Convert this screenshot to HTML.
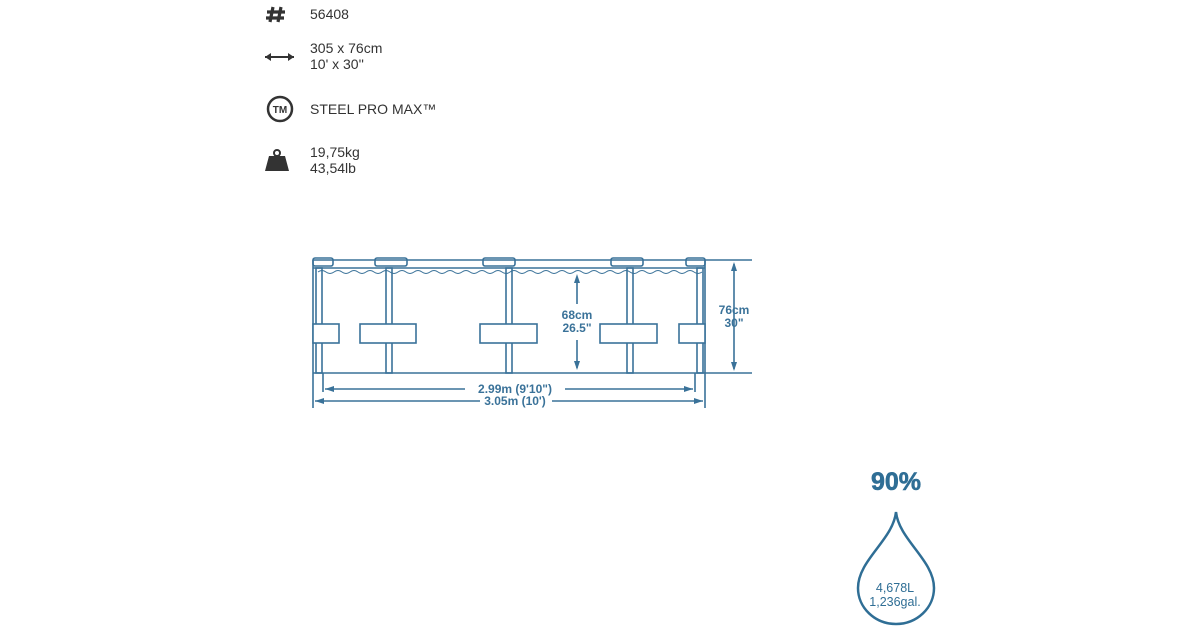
<!DOCTYPE html>
<html><head><meta charset="utf-8"><style>
body{margin:0;background:#fff;width:1200px;height:630px;overflow:hidden;font-family:"Liberation Sans",sans-serif}
</style></head><body>
<svg width="1200" height="630" xmlns="http://www.w3.org/2000/svg">
<g fill="#333" font-family="Liberation Sans, sans-serif" font-size="14">
<path d="M273 7 L270 22 M281 7 L278 22 M267 12 H285 M266 18 H284" stroke="#333" stroke-width="3.2"/>
<text x="310" y="19">56408</text>
<path d="M265 57 H294" stroke="#333" stroke-width="2"/>
<path d="M265 57 l6 -4 v8z M294 57 l-6 -4 v8z" fill="#333"/>
<text x="310" y="53">305 x 76cm</text>
<text x="310" y="69">10' x 30''</text>
<circle cx="280" cy="109" r="12" fill="none" stroke="#333" stroke-width="2.5"/>
<text x="280" y="113" font-size="10" font-weight="bold" text-anchor="middle">TM</text>
<text x="310" y="114">STEEL PRO MAX™</text>
<circle cx="277" cy="153" r="3" fill="none" stroke="#333" stroke-width="2"/>
<path d="M269 156 H285 L289 171 H265 Z" fill="#333"/>
<text x="310" y="157">19,75kg</text>
<text x="310" y="173">43,54lb</text>
</g>
<g stroke="#3a7299" stroke-width="1.6" fill="none">
<path d="M313 260 H705 M313 268 H705 M313 260 V408 M705 260 V408 M313 373 H705"/>
<path d="M318 272 q4 -3 8 0 t8 0 t8 0 t8 0 t8 0 t8 0 t8 0 t8 0 t8 0 t8 0 t8 0 t8 0 t8 0 t8 0 t8 0 t8 0 t8 0 t8 0 t8 0 t8 0 t8 0 t8 0 t8 0 t8 0 t8 0 t8 0 t8 0 t8 0 t8 0 t8 0 t8 0 t8 0 t8 0 t8 0 t8 0 t8 0 t8 0 t8 0 t8 0 t8 0 t8 0 t8 0 t8 0 t8 0 t8 0 t8 0 t8 0 t8 0" stroke-width="1"/>
<rect x="313" y="258" width="20" height="8" rx="2"/>
<rect x="375" y="258" width="32" height="8" rx="2"/>
<rect x="483" y="258" width="32" height="8" rx="2"/>
<rect x="611" y="258" width="32" height="8" rx="2"/>
<rect x="686" y="258" width="19" height="8" rx="2"/>
<rect x="316" y="268" width="6" height="105"/>
<rect x="386" y="268" width="6" height="105"/>
<rect x="506" y="268" width="6" height="105"/>
<rect x="627" y="268" width="6" height="105"/>
<rect x="697" y="268" width="6" height="105"/>
<rect x="313" y="324" width="26" height="19" fill="#fff"/>
<rect x="360" y="324" width="56" height="19" fill="#fff"/>
<rect x="480" y="324" width="57" height="19" fill="#fff"/>
<rect x="600" y="324" width="57" height="19" fill="#fff"/>
<rect x="679" y="324" width="26" height="19" fill="#fff"/>
<path d="M323 373 V392 M695 373 V392"/>
<path d="M325 389 H465 M565 389 H693 M315 401 H480 M552 401 H703"/>
<path d="M705 260 H752 M705 373 H752 M734 264 V369 M577 277 V304 M577 340 V368"/>
</g>
<g fill="#3a7299">
<path d="M325 389 l9 -3 v6z M693 389 l-9 -3 v6z M315 401 l9 -3 v6z M703 401 l-9 -3 v6z"/>
<path d="M734 262 l-3 9 h6z M734 371 l-3 -9 h6z M577 274 l-3 9 h6z M577 370 l-3 -9 h6z"/>
</g>
<g fill="#3a7299" font-family="Liberation Sans, sans-serif" font-size="12" font-weight="bold" text-anchor="middle">
<text x="515" y="393">2.99m (9'10")</text>
<text x="515" y="405">3.05m (10')</text>
<text x="734" y="314">76cm</text>
<text x="734" y="327">30"</text>
<text x="577" y="319">68cm</text>
<text x="577" y="332">26.5"</text>
</g>
<text x="896" y="490" fill="#2f6e95" font-family="Liberation Sans, sans-serif" font-size="25" font-weight="bold" text-anchor="middle" stroke="#2f6e95" stroke-width="0.6">90%</text>
<path d="M896 512 C893 540 858 560 858 588 A38 36 0 0 0 934 588 C934 560 899 540 896 512 Z" fill="none" stroke="#2f6e95" stroke-width="2.5"/>
<g fill="#2f6e95" font-family="Liberation Sans, sans-serif" font-size="12.5" text-anchor="middle">
<text x="895" y="592">4,678L</text>
<text x="895" y="606">1,236gal.</text>
</g>
</svg>
</body></html>
